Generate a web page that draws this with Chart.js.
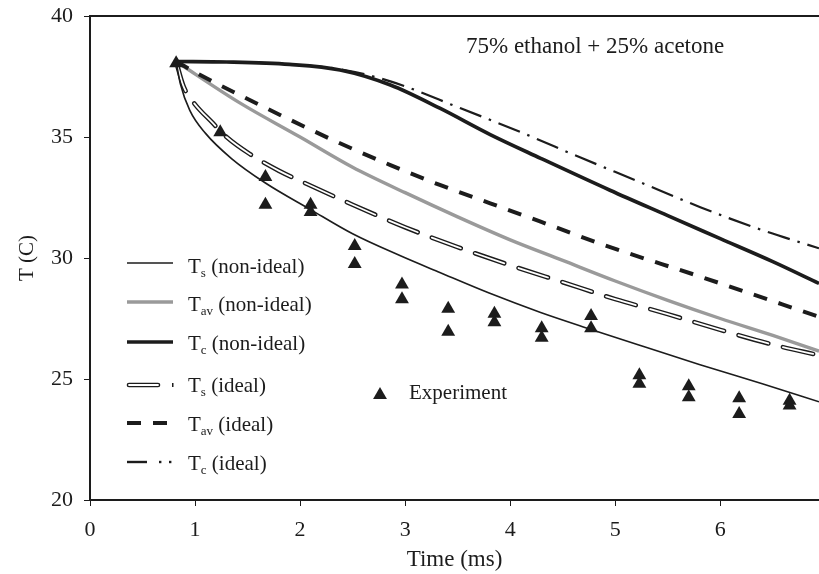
<!DOCTYPE html>
<html><head><meta charset="utf-8">
<script src="https://cdn.jsdelivr.net/npm/chart.js@4/dist/chart.umd.min.js"></script>
<style>html,body{margin:0;padding:0;background:#fff}#wrap{width:819px;height:574px;position:relative}</style>
</head><body><div id="wrap"><canvas id="c"></canvas></div>
<script>
// ---- data (time in ms, temperature in C) ----
const xTicks = [0, 1, 2, 3, 4, 5, 6];
const yTicks = [20, 25, 30, 35, 40];
const noteText = '75% ethanol + 25% acetone';

const expX = [0.82, 1.24, 1.67, 1.67, 2.10, 2.10, 2.52, 2.52, 2.97, 2.97, 3.41, 3.41, 3.85, 3.85, 4.30, 4.30, 4.77, 4.77, 5.23, 5.23, 5.70, 5.70, 6.18, 6.18, 6.66, 6.66];
const expY = [38.05, 35.2, 33.35, 32.2, 32.2, 31.9, 30.5, 29.75, 28.9, 28.3, 27.9, 26.95, 27.7, 27.35, 27.1, 26.7, 27.6, 27.1, 25.15, 24.8, 24.7, 24.25, 24.2, 23.55, 24.1, 23.9];

const tsNonX = [0.82, 0.86, 0.95, 1.1, 1.35, 1.67, 2.1, 2.5, 2.95, 3.33, 3.8, 4.29, 4.77, 5.3, 5.8, 6.4, 6.94];
const tsNonY = [38.12, 37.2, 36.1, 35.15, 34.1, 33.1, 32.0, 31.0, 30.1, 29.4, 28.55, 27.75, 27.05, 26.3, 25.6, 24.8, 24.06];

const tavNonX = [0.82, 1.43, 2.0, 2.5, 3.0, 3.5, 4.0, 4.5, 5.0, 5.5, 6.0, 6.5, 6.94];
const tavNonY = [38.12, 36.4, 35.0, 33.75, 32.7, 31.7, 30.75, 29.9, 29.05, 28.25, 27.5, 26.8, 26.15];

const tcNonX = [0.82, 1.3, 1.9, 2.38, 2.86, 3.33, 3.81, 4.29, 4.95, 5.5, 6.0, 6.5, 6.94];
const tcNonY = [38.12, 38.1, 38.0, 37.77, 37.15, 36.19, 35.1, 34.12, 32.8, 31.75, 30.8, 29.85, 28.95];

const tsIdX = [0.82, 0.89, 0.98, 1.17, 1.30, 1.52, 1.8, 2.05, 2.5, 3.0, 3.5, 4.0, 4.5, 5.0, 5.5, 6.0, 6.5, 6.94];
const tsIdY = [38.12, 37.1, 36.46, 35.57, 35.0, 34.3, 33.6, 33.09, 32.2, 31.27, 30.45, 29.7, 29.0, 28.3, 27.68, 27.03, 26.42, 25.98];

const tavIdX = [0.82, 1.05, 1.52, 1.9, 2.38, 2.86, 3.33, 3.81, 4.29, 4.89, 5.81, 6.94];
const tavIdY = [38.12, 37.56, 36.53, 35.72, 34.74, 33.84, 33.02, 32.26, 31.5, 30.54, 29.23, 27.57];

const tcIdX = [0.82, 1.3, 1.9, 2.38, 2.86, 3.52, 4.10, 4.67, 5.2, 5.81, 6.4, 6.94];
const tcIdY = [38.12, 38.1, 38.0, 37.8, 37.3, 36.2, 35.2, 34.15, 33.2, 32.1, 31.15, 30.4];

const legendLabels = [
  ['T', 's', ' (non-ideal)'],
  ['T', 'av', ' (non-ideal)'],
  ['T', 'c', ' (non-ideal)'],
  ['T', 's', ' (ideal)'],
  ['T', 'av', ' (ideal)'],
  ['T', 'c', ' (ideal)']
];
const expLabel = 'Experiment';

// ---- build ----
const pts = (xs, ys) => xs.map((x, i) => ({x: x, y: ys[i]}));
const INK = '#1c1c1c';
const FONT = '"Liberation Serif", "Times New Roman", serif';

const lineDs = (data, color, width, dash, cap) => ({
  data: data, borderColor: color, borderWidth: width, borderDash: dash || [],
  borderCapStyle: cap || 'butt', pointRadius: 0, fill: false,
  cubicInterpolationMode: 'monotone', showLine: true
});

const datasets = [
  {data: pts(expX, expY), showLine: false, pointStyle: 'triangle', pointRadius: 8,
   pointBackgroundColor: INK, pointBorderWidth: 0, borderColor: INK},
  lineDs(pts(tsNonX, tsNonY), INK, 1.6),
  lineDs(pts(tsIdX, tsIdY), '#ffffff', 1.8, [31, 15], 'round'),
  lineDs(pts(tsIdX, tsIdY), INK, 4.6, [31, 15], 'round'),
  lineDs(pts(tavIdX, tavIdY), INK, 4, [14, 12]),
  lineDs(pts(tavNonX, tavNonY), '#9a9a9a', 3.4),
  lineDs(pts(tcNonX, tcNonY), INK, 3.6),
  lineDs(pts(tcIdX, tcIdY), INK, 2.2, [23, 8, 2.5, 8])
];

function triangle(ctx, x, y, r) {
  ctx.beginPath();
  ctx.moveTo(x, y - r);
  ctx.lineTo(x + r * Math.sin(2 * Math.PI / 3), y - r * Math.cos(2 * Math.PI / 3));
  ctx.lineTo(x + r * Math.sin(4 * Math.PI / 3), y - r * Math.cos(4 * Math.PI / 3));
  ctx.closePath();
  ctx.fill();
}

const noPad = s => { s.paddingTop = 0; s.paddingBottom = 0; s.paddingLeft = 0; s.paddingRight = 0; };

const decor = {
  id: 'decor',
  afterDraw(chart) {
    const ctx = chart.ctx, a = chart.chartArea;
    ctx.save();
    // top frame line
    ctx.strokeStyle = INK; ctx.lineWidth = 1.8;
    ctx.beginPath(); ctx.moveTo(a.left, a.top); ctx.lineTo(a.right, a.top); ctx.stroke();
    // annotation
    ctx.fillStyle = INK; ctx.textBaseline = 'middle'; ctx.textAlign = 'left';
    ctx.font = '23px ' + FONT;
    ctx.fillText(noteText, a.left + 376, a.top + 31);
    // legend
    const rowLine = [263, 302, 342, 385, 423, 462];
    const rowText = [267, 305, 344, 386, 425, 464];
    const x0 = 127, x1 = 173, tx = 188;
    rowLine.forEach((yl, i) => {
      ctx.save();
      ctx.strokeStyle = INK; ctx.fillStyle = INK;
      if (i === 0) { ctx.lineWidth = 1.6; ctx.beginPath(); ctx.moveTo(x0, yl); ctx.lineTo(x1, yl); ctx.stroke(); }
      if (i === 1) { ctx.strokeStyle = '#9a9a9a'; ctx.lineWidth = 3.4; ctx.beginPath(); ctx.moveTo(x0, yl); ctx.lineTo(x1, yl); ctx.stroke(); }
      if (i === 2) { ctx.lineWidth = 3.6; ctx.beginPath(); ctx.moveTo(x0, yl); ctx.lineTo(x1, yl); ctx.stroke(); }
      if (i === 3) {
        ctx.lineCap = 'round';
        ctx.lineWidth = 4.6; ctx.beginPath(); ctx.moveTo(x0 + 2, yl); ctx.lineTo(x0 + 31, yl); ctx.stroke();
        ctx.strokeStyle = '#fff'; ctx.lineWidth = 1.8; ctx.beginPath(); ctx.moveTo(x0 + 2, yl); ctx.lineTo(x0 + 31, yl); ctx.stroke();
        ctx.fillRect(x0 + 45, yl - 2, 1.5, 4);
      }
      if (i === 4) { ctx.lineWidth = 4; ctx.setLineDash([14, 12]); ctx.beginPath(); ctx.moveTo(x0, yl); ctx.lineTo(x0 + 42, yl); ctx.stroke(); }
      if (i === 5) {
        ctx.lineWidth = 2.4; ctx.beginPath(); ctx.moveTo(x0, yl); ctx.lineTo(x0 + 20, yl); ctx.stroke();
        ctx.fillRect(x0 + 32, yl - 1.2, 2.4, 2.4); ctx.fillRect(x0 + 42, yl - 1.2, 2.4, 2.4);
      }
      ctx.restore();
      const lab = legendLabels[i], yt = rowText[i];
      ctx.font = '21px ' + FONT;
      ctx.fillText(lab[0], tx, yt);
      let w = ctx.measureText(lab[0]).width;
      ctx.font = '13px ' + FONT;
      ctx.fillText(lab[1], tx + w, yt + 7);
      w += ctx.measureText(lab[1]).width;
      ctx.font = '21px ' + FONT;
      ctx.fillText(lab[2], tx + w, yt);
    });
    // experiment legend
    triangle(ctx, 380, 395, 8);
    ctx.font = '21px ' + FONT;
    ctx.fillText(expLabel, 409, 393);
    ctx.restore();
  }
};

new Chart(document.getElementById('c'), {
  type: 'line',
  data: {datasets: datasets},
  plugins: [decor],
  options: {
    responsive: true, maintainAspectRatio: false, animation: false,
    layout: {autoPadding: false, padding: {top: 16, right: 0, bottom: 0, left: 0}},
    plugins: {legend: {display: false}, tooltip: {enabled: false}},
    scales: {
      x: {
        type: 'linear', min: 0, max: 6.94,
        afterFit: s => { s.height = 74; noPad(s); },
        afterBuildTicks: s => { s.ticks = xTicks.map(v => ({value: v})); },
        ticks: {color: INK, font: {family: FONT, size: 22}, padding: 11, includeBounds: false},
        grid: {drawOnChartArea: false, drawTicks: true, tickLength: 6, color: INK, lineWidth: 1},
        border: {display: true, color: INK, width: 2},
        title: {display: true, text: 'Time (ms)', color: INK, font: {family: FONT, size: 23}, padding: {top: 0, bottom: 0}}
      },
      y: {
        type: 'linear', min: 20, max: 40,
        afterFit: s => { s.width = 90; noPad(s); },
        afterBuildTicks: s => { s.ticks = yTicks.map(v => ({value: v})); },
        ticks: {color: INK, font: {family: FONT, size: 22}, padding: 11},
        grid: {drawOnChartArea: false, drawTicks: true, tickLength: 6, color: INK, lineWidth: 1},
        border: {display: true, color: INK, width: 2},
        title: {display: true, text: 'T (C)', color: INK, font: {family: FONT, size: 21}, padding: {top: 15, bottom: 0}}
      }
    }
  }
});
</script></body></html>
